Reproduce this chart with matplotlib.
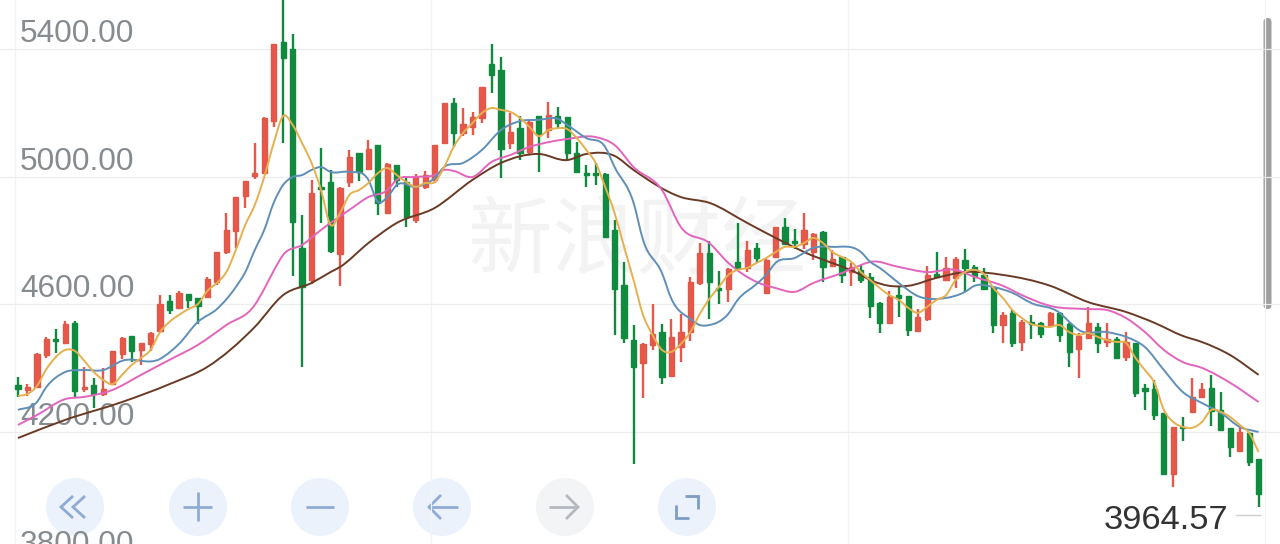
import numpy as np
import matplotlib
matplotlib.use('Agg')
import matplotlib.pyplot as plt
from matplotlib.patches import Circle, FancyBboxPatch, PathPatch
from matplotlib.path import Path

# daily candles
opens = [4347,4332,4341,4441,4491,4479,4542,4335,4347,4319,4350,4444,4501,4457,4476,4516,4610,4589,4632,4620,
         4623,4670,4764,4830,4939,5002,5011,5175,5422,5400,4777,4676,4968,4983,4758,4983,5074,5024,5099,4886,
         5037,4983,4864,4968,4990,5105,5231,5137,5156,5184,5353,5334,5105,5152,5077,5190,5146,5190,5187,5074,
         5011,5011,5008,4833,4661,4488,4416,4473,4513,4375,4466,4513,4667,4761,4651,4648,4733,4714,4777,4636,
         4748,4842,4798,4789,4764,4827,4720,4748,4701,4708,4686,4604,4542,4629,4626,4516,4554,4695,4676,4683,
         4739,4717,4692,4654,4535,4573,4482,4545,4542,4535,4573,4538,4460,4494,4529,4482,4491,4435,4479,4338,
         4335,4260,4068,4216,4263,4310,4338,4269,4213,4141,4197,4115]
closes = [4335,4341,4444,4491,4485,4538,4328,4341,4319,4335,4454,4494,4454,4479,4510,4601,4582,4636,4614,4595,
          4680,4764,4833,4936,4986,5011,5184,5416,5372,4858,4654,4949,4961,4767,4965,5062,5015,5087,4918,5040,
          4990,4874,4999,5005,5099,5231,5137,5165,5187,5281,5319,5087,5140,5074,5171,5130,5193,5168,5074,5015,
          5005,5005,4811,4648,4494,4404,4476,4507,4372,4498,4513,4670,4761,4670,4645,4711,4714,4770,4745,4739,
          4842,4789,4792,4833,4821,4717,4742,4692,4717,4676,4595,4542,4623,4620,4520,4560,4692,4686,4714,4742,
          4714,4689,4648,4535,4567,4479,4545,4538,4507,4573,4504,4451,4501,4542,4479,4491,4432,4482,4322,4328,
          4253,4068,4216,4213,4310,4335,4266,4206,4153,4200,4106,4006]
highs = [4372,4350,4447,4498,4523,4548,4548,4404,4369,4401,4454,4498,4501,4479,4513,4629,4629,4642,4632,4620,
         4686,4764,4886,4936,4986,5105,5187,5416,5560,5447,4880,4990,5090,5021,4968,5084,5074,5115,5099,5043,
         5037,4996,5008,5018,5099,5231,5246,5215,5203,5281,5416,5375,5200,5190,5178,5190,5234,5218,5187,5108,
         5037,5043,5011,4864,4733,4535,4479,4601,4538,4554,4570,4686,4792,4798,4705,4714,4855,4798,4792,4745,
         4842,4871,4836,4886,4824,4830,4770,4748,4730,4723,4698,4607,4642,4654,4626,4585,4720,4764,4748,4748,
         4773,4723,4714,4657,4576,4582,4551,4567,4545,4576,4576,4542,4510,4592,4542,4542,4498,4513,4479,4350,
         4363,4260,4216,4247,4369,4354,4379,4325,4213,4216,4200,4115]
lows = [4310,4313,4338,4432,4447,4476,4310,4325,4275,4313,4347,4429,4419,4410,4454,4510,4570,4585,4589,4538,
        4620,4661,4758,4777,4902,4993,5011,5156,5105,4689,4404,4664,4855,4761,4658,4968,4986,5021,4880,4886,
        4968,4842,4855,4961,4980,5105,5093,5127,5130,5168,5262,4996,5087,5052,5068,5015,5121,5152,5052,5011,
        4968,4974,4808,4504,4479,4100,4306,4457,4350,4375,4419,4485,4661,4554,4601,4607,4714,4701,4730,4636,
        4748,4789,4773,4773,4739,4670,4717,4667,4658,4667,4557,4510,4542,4560,4501,4513,4548,4686,4676,4651,
        4639,4670,4645,4510,4479,4466,4454,4491,4494,4529,4482,4404,4369,4491,4447,4466,4429,4422,4310,4269,
        4238,4068,4027,4172,4263,4310,4219,4203,4122,4137,4094,3964.57]

ma5 = [4313,4319,4344,4397,4435,4457,4454,4423,4388,4363,4350,4379,4410,4432,4457,4513,4545,4567,4585,4601,
       4642,4667,4701,4770,4849,4911,4999,5105,5190,5162,5105,5043,4958,4849,4886,4943,4958,4980,5011,5027,
       5005,4983,4968,4980,4983,5030,5093,5137,5168,5200,5215,5209,5203,5184,5156,5127,5146,5152,5149,5121,
       5084,5043,4968,4886,4780,4676,4567,4504,4457,4451,4476,4513,4570,4617,4654,4692,4708,4714,4730,4745,
       4764,4780,4780,4792,4808,4792,4764,4748,4733,4701,4676,4651,4629,4614,4589,4573,4592,4614,4629,4676,
       4701,4708,4695,4651,4620,4582,4557,4538,4532,4529,4535,4513,4504,4510,4498,4488,4482,4479,4432,4394,
       4354,4269,4231,4216,4213,4231,4269,4263,4247,4222,4197,4137]

ma10_idx = [0,2,3,5,7,9,11,15,17,19,21,23,24,25,26,27,28,29,30,31,32,33,35,37,38,39,40,42,44,45,47,49,51,53,55,57,58,
            60,62,63,65,66,68,69,71,72,73,75,76,78,79,80,82,84,86,89,90,91,93,95,98,100,101,103,105,107,110,111,112,
            115,117,119,121,123,125,127,129,131]
ma10 = [4269,4294,4341,4388,4394,4394,4423,4429,4476,4545,4585,4654,4701,4770,4833,4918,4974,4999,5005,5021,5030,5015,
        5015,4990,4921,4936,4974,4968,4996,5030,5043,5084,5146,5174,5178,5181,5162,5121,5093,5030,4918,4802,4698,4617,
        4554,4535,4535,4570,4614,4664,4692,4730,4745,4777,4780,4764,4733,4714,4667,4626,4620,4639,4658,4654,4636,4604,
        4573,4545,4520,4513,4498,4466,4394,4325,4291,4260,4216,4200]

ma20_idx = [0,2,5,7,10,13,16,19,22,25,26,27,28,30,32,33,35,37,39,40,42,44,45,46,48,50,52,54,56,58,61,63,65,68,70,73,75,
            78,80,82,84,87,89,90,93,96,99,101,104,106,109,113,115,117,119,121,123,125,128,131]
ma20 = [4222,4253,4303,4310,4332,4379,4426,4473,4535,4598,4648,4705,4755,4786,4833,4855,4896,4936,4958,4990,4999,5005,
        5021,5018,4999,5046,5068,5093,5108,5118,5124,5099,5030,4958,4842,4792,4730,4670,4651,4639,4667,4698,4723,4733,
        4717,4701,4708,4686,4658,4629,4595,4585,4582,4557,4513,4457,4419,4401,4354,4294]

ma30_idx = [0,5,11,16,20,25,28,31,33,34,37,40,44,48,51,55,58,60,63,65,70,73,77,80,83,89,90,92,94,97,100,104,109,113,117,
            120,123,125,128,131]
ma30 = [4181,4238,4294,4350,4404,4529,4629,4667,4701,4717,4792,4855,4902,4990,5043,5071,5052,5071,5065,5021,4936,4918,
        4855,4808,4764,4692,4676,4658,4658,4683,4701,4692,4658,4607,4576,4542,4501,4482,4441,4379]

price_ticks = [5400, 5000, 4600, 4200, 3800]

RED = '#e9574a'
RED_EDGE = '#dc5a4a'
GREEN = '#0f8a3f'
TICK_GREY = '#868b90'
ICON_BLUE = '#8eabd6'


def smooth_line(ax, xs, ys, color, lw, zorder):
    # the source chart draws its lines smoothed, so join the read points with bezier curves
    xs = np.asarray(xs, float)
    ys = np.asarray(ys, float)
    slope = np.gradient(ys, xs)
    verts = [(xs[0], ys[0])]
    for i in range(len(xs) - 1):
        d = (xs[i + 1] - xs[i]) / 3
        verts.append((xs[i] + d, ys[i] + slope[i] * d))
        verts.append((xs[i + 1] - d, ys[i + 1] - slope[i + 1] * d))
        verts.append((xs[i + 1], ys[i + 1]))
    codes = [Path.MOVETO] + [Path.CURVE4] * (len(verts) - 1)
    ax.add_patch(PathPatch(Path(verts, codes), fill=False, edgecolor=color, lw=lw, zorder=zorder))


plt.rcParams['font.family'] = ['Liberation Sans', 'DejaVu Sans']

fig = plt.figure(figsize=(12.8, 5.44), dpi=100)

# buttons and scrollbar, in screen pixels, under the chart
ui = fig.add_axes([0, 0, 1, 1], zorder=0)
ui.set_xlim(0, 1280)
ui.set_ylim(544, 0)
ui.axis('off')

ax = fig.add_axes([0, 0, 1, 1], zorder=1)
ax.patch.set_alpha(0)
for s in ax.spines.values():
    s.set_visible(False)
ax.set_xticks([-0.3, 43.6, 87.6, 131.7])
ax.set_yticks(price_ticks)
ax.tick_params(length=0, labelbottom=False, labelleft=False)
ax.set_axisbelow(True)
ax.xaxis.grid(True, color='#f3f3f3', lw=0.9)
ax.yaxis.grid(True, color='#ededed', lw=0.9)

for p in price_ticks:
    ax.annotate(f'{p:.2f}', xy=(0, p), xycoords=ax.get_yaxis_transform(), xytext=(20, 7),
                textcoords='offset pixels', fontsize=22.8, color=TICK_GREY, zorder=1, annotation_clip=False)

ax.text(0.498, 0.555, '新浪财经', transform=ax.transAxes, ha='center', va='center', fontsize=61,
        family=['Noto Sans CJK SC', 'DejaVu Sans'], color='#f3f3f3', zorder=1.5)

idx = np.arange(len(opens))
opens = np.array(opens)
closes = np.array(closes)
up = closes >= opens
colors = np.where(up, RED, GREEN)
ax.vlines(idx, lows, highs, colors=colors, lw=1.7, zorder=3)
bottoms = np.minimum(opens, closes)
ax.bar(idx, np.abs(closes - opens), bottom=bottoms, width=0.55, color=colors,
       edgecolor=np.where(up, RED_EDGE, GREEN), lw=1.0, zorder=3)

smooth_line(ax, idx, ma5, '#e6b04e', 1.4, 5)
smooth_line(ax, ma10_idx, ma10, '#5f8fb8', 1.4, 4.7)
smooth_line(ax, ma20_idx, ma20, '#e364bd', 1.4, 4.5)
smooth_line(ax, ma30_idx, ma30, '#6a3a24', 1.4, 4.3)

ax.set_xlim(-1.9, 133.26)
ax.set_ylim(3849, 5553.5)

for cx, col in zip([75, 198, 320, 442, 565, 687],
                   ['#ebf2fc', '#ebf2fc', '#ebf2fc', '#ebf2fc', '#f3f4f6', '#ebf2fc']):
    ui.add_patch(Circle((cx, 507), 29, color=col, lw=0))

icon = dict(color=ICON_BLUE, lw=2.0, solid_capstyle='butt', solid_joinstyle='miter')
ui.plot([73, 61, 73], [496, 507, 518], **icon)
ui.plot([85, 73, 85], [496, 507, 518], **icon)
ui.plot([183, 212], [507, 507], **icon)
ui.plot([198, 198], [492, 521], **icon)
ui.plot([306, 334], [507, 507], **icon)
ui.plot([429, 458], [507, 507], **icon)
ui.plot([441, 429, 441], [495, 507, 519], **icon)
grey = dict(icon, color='#b5b9bf')
ui.plot([549, 578], [507, 507], **grey)
ui.plot([566, 578, 566], [495, 507, 519], **grey)
ui.plot([685, 698, 698], [496, 496, 509], **dict(icon, color='#7f9cc4'))
ui.plot([676, 676, 689], [505, 518, 518], **dict(icon, color='#7f9cc4'))

ui.add_patch(FancyBboxPatch((1263.5, 18), 8, 291, boxstyle='round,pad=0,rounding_size=4',
                            mutation_aspect=1, facecolor='#9f9f9f', edgecolor='none'))

ui.text(1228, 529, f'{min(lows):.2f}', ha='right', va='baseline', fontsize=24.8, color='#333333')
ui.plot([1236, 1260], [515, 515], color='#cfcfcf', lw=1.0)

fig.savefig('out.png', dpi=100)
